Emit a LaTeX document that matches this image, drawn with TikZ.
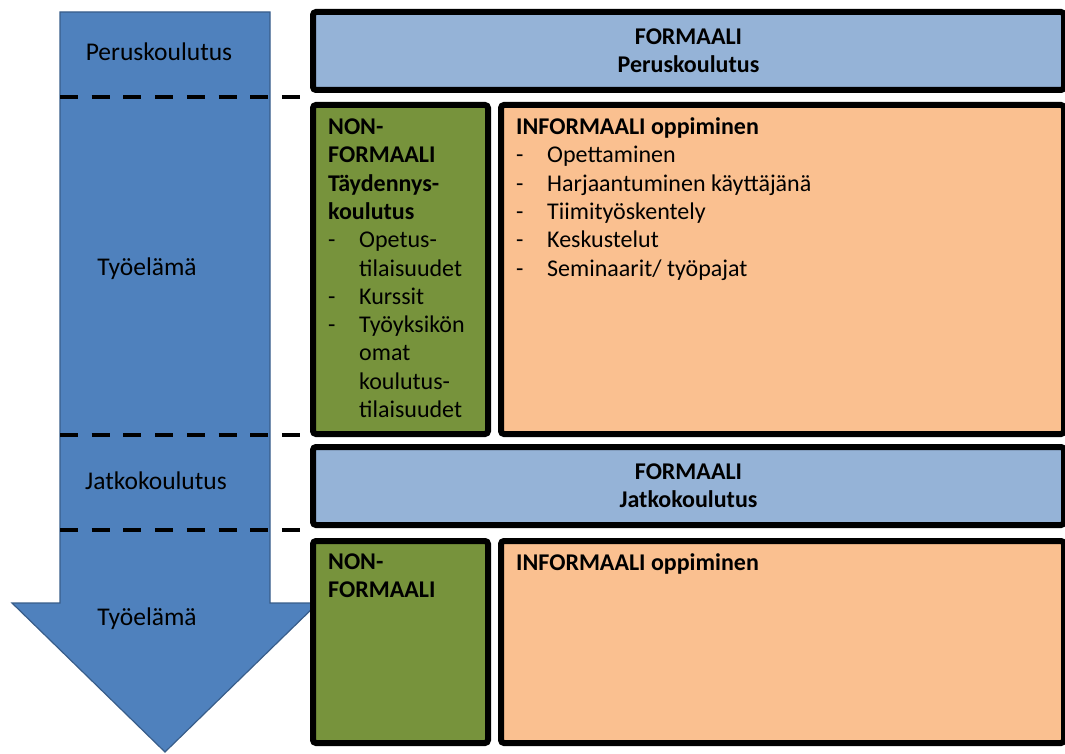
\documentclass[tikz,border=0pt]{standalone}
\usepackage{fontspec}
\setmainfont{Carlito}
\definecolor{arrowfill}{HTML}{4F81BD}
\definecolor{arrowdraw}{HTML}{385D8A}
\definecolor{formblue}{HTML}{95B3D7}
\definecolor{nongreen}{HTML}{77933C}
\definecolor{infoorange}{HTML}{FAC090}
\newcommand{\itm}[1]{\makebox[31pt][l]{-}#1}
\newcommand{\cnt}[1]{\hspace*{31pt}#1}
\begin{document}
\begin{tikzpicture}[x=1pt,y=-1pt,
  panel/.style={draw=black, line width=6pt, rounded corners=3pt, anchor=north west, inner sep=0pt,
    font=\fontsize{24}{28.3}\selectfont\bfseries, align=center},
  txt/.style={inner sep=0pt, font=\fontsize{24}{28.3}\selectfont, align=left},
  sidelbl/.style={inner sep=0pt, font=\fontsize{25.5}{28.3}\selectfont, anchor=base},
  sepline/.style={line width=4pt, dash pattern=on 18pt off 13.7pt}]
\useasboundingbox (0,0) rectangle (1065,754);

% big arrow
\draw[fill=arrowfill, draw=arrowdraw, line width=1.2pt]
  (60,12) -- (270,12) -- (270,603) -- (318,603) -- (165,752) -- (12,603) -- (60,603) -- cycle;

% dashed separators
\coordinate (s1a) at (60,97);  \coordinate (s1b) at (300,97);
\coordinate (s2a) at (60,435); \coordinate (s2b) at (300,435);
\coordinate (s3a) at (60,530); \coordinate (s3b) at (300,530);
\draw[sepline] (s1a) -- (s1b);
\draw[sepline] (s2a) -- (s2b);
\draw[sepline] (s3a) -- (s3b);

% side labels
\node[sidelbl] (lperus) at (159,61) {Peruskoulutus};
\node[sidelbl] (ltyo1) at (147,275) {Työelämä};
\node[sidelbl] (ljatko) at (156,489) {Jatkokoulutus};
\node[sidelbl] (ltyo2) at (147,625) {Työelämä};

% panels
\node[panel, fill=formblue, minimum width=751pt, minimum height=78pt] (ftop) at (310,9)
  {FORMAALI\\Peruskoulutus};
\node[panel, fill=nongreen, minimum width=175pt, minimum height=329pt] (non1) at (310,102) {};
\node[panel, fill=infoorange, minimum width=563pt, minimum height=329pt] (inf1) at (498,102) {};
\node[panel, fill=formblue, minimum width=751pt, minimum height=78pt] (fjatko) at (310,444)
  {FORMAALI\\Jatkokoulutus};
\node[panel, fill=nongreen, minimum width=175pt, minimum height=202pt] (non2) at (310,538) {};
\node[panel, fill=infoorange, minimum width=563pt, minimum height=202pt] (inf2) at (498,538) {};

% panel texts
\node[txt, anchor=north west] (t1) at (328,114.5)
  {\strut\textbf{NON-}\\\textbf{FORMAALI}\\\textbf{Täydennys-}\\\textbf{koulutus}\\
   \itm{Opetus-}\\\cnt{tilaisuudet}\\\itm{Kurssit}\\\itm{Työyksikön}\\\cnt{omat}\\
   \cnt{koulutus-}\\\cnt{tilaisuudet}};
\node[txt, anchor=north west] (t2) at (516,114.5)
  {\strut\textbf{INFORMAALI oppiminen}\\\itm{Opettaminen}\\\itm{Harjaantuminen käyttäjänä}\\
   \itm{Tiimityöskentely}\\\itm{Keskustelut}\\\itm{Seminaarit/ työpajat}};
\node[txt, anchor=north west] (t3) at (328,549.2)
  {\strut\textbf{NON-}\\\textbf{FORMAALI}};
\node[txt, anchor=north west] (t4) at (516,550.2)
  {\strut\textbf{INFORMAALI oppiminen}};
\end{tikzpicture}
\end{document}
